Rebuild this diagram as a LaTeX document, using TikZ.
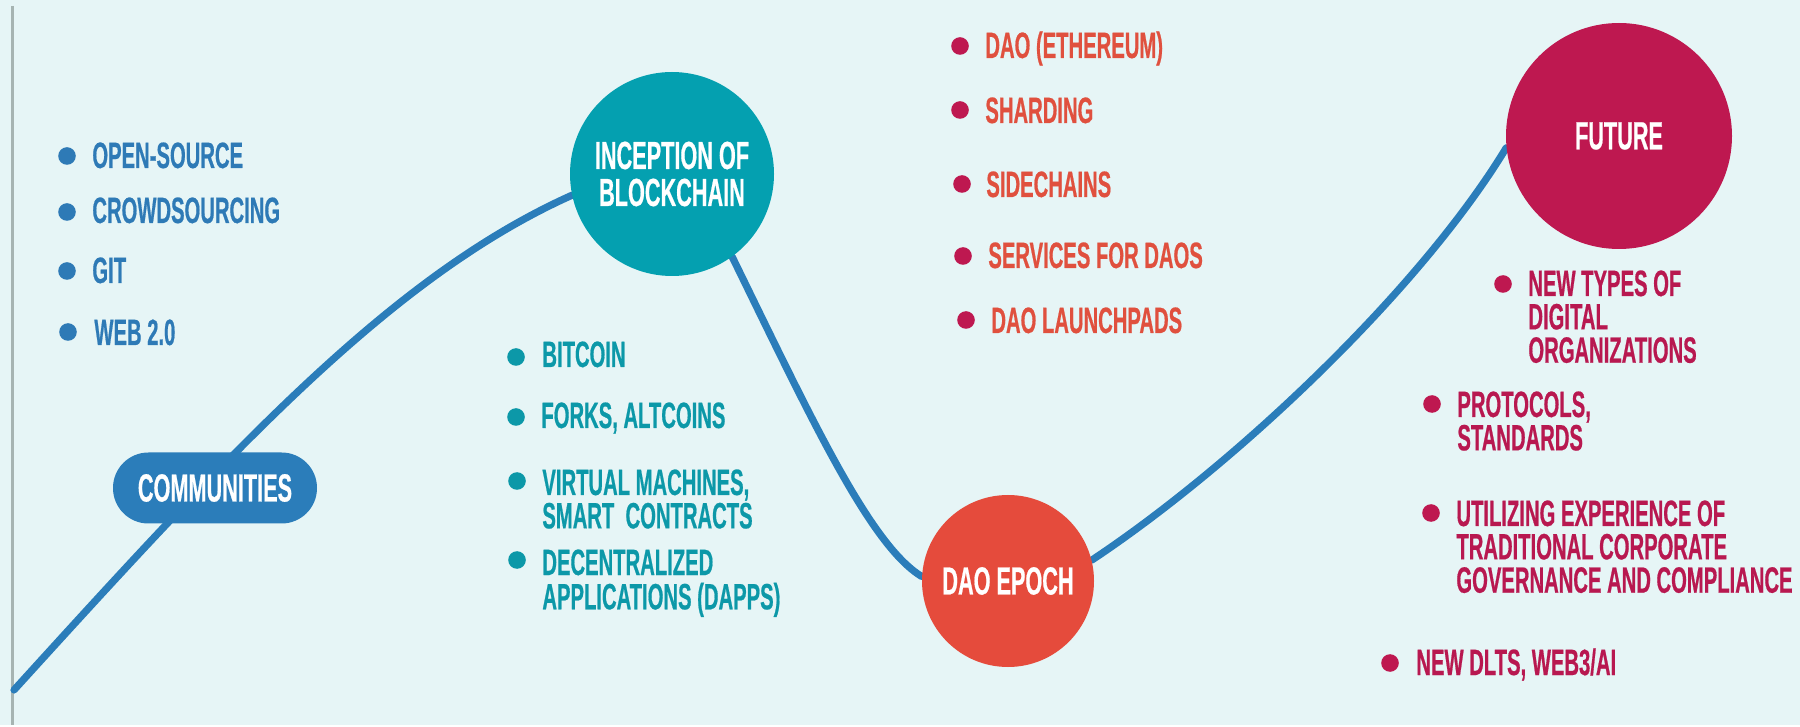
\documentclass[tikz,border=0pt]{standalone}
\usepackage{fontspec}
\setmainfont{Liberation Sans}
\newfontfamily\condfont[FakeStretch=0.553,FakeBold=0.5]{Liberation Sans}
\usetikzlibrary{backgrounds}
\definecolor{bgc}{RGB}{230,245,246}
\definecolor{edgegray}{RGB}{166,180,178}
\definecolor{curveblue}{RGB}{43,125,186}
\definecolor{blueitem}{RGB}{46,122,182}
\definecolor{tealc}{RGB}{4,160,176}
\definecolor{tealitem}{RGB}{12,152,168}
\definecolor{redc}{RGB}{229,75,60}
\definecolor{reditem}{RGB}{224,80,62}
\definecolor{crimson}{RGB}{190,24,80}
\definecolor{crimsonitem}{RGB}{184,24,80}
\newcommand\itemlines[1]{\begin{tabular}[t]{@{}l@{}}#1\end{tabular}}
\newcommand\nl{\\[-1.2pt]}
\pgfdeclarelayer{bgfill}
\pgfsetlayers{bgfill,background,main}
\tikzset{
  itemtxt/.style={anchor=base west, inner sep=0pt, text=#1,
    font=\condfont\bfseries\fontsize{18.3}{17}\selectfont},
  bul/.style={circle, fill=#1, minimum size=8.8pt, inner sep=0pt},
  bignode/.style={circle, fill=#1, inner sep=0pt, text=white, align=center,
    font=\condfont\bfseries\fontsize{19.6}{18.5}\selectfont},
  curve/.style={line width=3.6pt, draw=curveblue, line cap=round},
}
\begin{document}
\begin{tikzpicture}[x=0.5pt,y=-0.5pt]
\begin{pgfonlayer}{bgfill}
\fill[bgc] (0,0) rectangle (1800,725);
\draw[edgegray, line width=1.5pt] (12,6) -- (12,725);
\end{pgfonlayer}
\useasboundingbox (0,0) rectangle (1800,725);

% main stages
\node[rectangle, fill=curveblue, rounded corners=17.7pt, minimum width=102pt,
  minimum height=35.5pt, inner sep=0pt, text=white,
  font=\condfont\bfseries\fontsize{19.6}{18.5}\selectfont] (comm) at (215,488) {COMMUNITIES};
\node[bignode=tealc, minimum size=102pt] (incep) at (672,174) {INCEPTION OF\\BLOCKCHAIN};
\node[bignode=redc, minimum size=86pt] (dao) at (1008,581) {DAO EPOCH};
\node[bignode=crimson, minimum size=113pt] (future) at (1619,136) {FUTURE};

% curve
\coordinate (start) at (14,690);
\begin{pgfonlayer}{background}
\draw[curve] (start) .. controls (234,448) and (392,276) .. (incep.192);
\draw[curve] (incep.306) .. controls (812,420) and (870,545) .. (dao.177);
\draw[curve] (dao.14) .. controls (1235,465) and (1420,290) .. (future.186);
\end{pgfonlayer}

% communities items
\node[bul=blueitem] (b1) at (67,156) {};
\node[itemtxt=blueitem] (t1) at (92,168) {OPEN-SOURCE};
\node[bul=blueitem] (b2) at (67,212) {};
\node[itemtxt=blueitem] (t2) at (92,223) {CROWDSOURCING};
\node[bul=blueitem] (b3) at (67,271) {};
\node[itemtxt=blueitem] (t3) at (92,283) {GIT};
\node[bul=blueitem] (b4) at (68,332) {};
\node[itemtxt=blueitem] (t4) at (94,345) {WEB 2.0};

% blockchain items
\node[bul=tealitem] (c1) at (516,357) {};
\node[itemtxt=tealitem] (u1) at (542,367) {BITCOIN};
\node[bul=tealitem] (c2) at (516,417) {};
\node[itemtxt=tealitem] (u2) at (541,428) {FORKS, ALTCOINS};
\node[bul=tealitem] (c3) at (517,481) {};
\node[itemtxt=tealitem] (u3) at (542,495) {\itemlines{VIRTUAL MACHINES,\nl SMART\ \ CONTRACTS}};
\node[bul=tealitem] (c4) at (517,560) {};
\node[itemtxt=tealitem] (u4) at (542,575) {\itemlines{DECENTRALIZED\nl APPLICATIONS (DAPPS)}};

% DAO items
\node[bul=crimson] (d1) at (960,46) {};
\node[itemtxt=reditem] (e1) at (985,58) {DAO (ETHEREUM)};
\node[bul=crimson] (d2) at (960,110) {};
\node[itemtxt=reditem] (e2) at (985,123) {SHARDING};
\node[bul=crimson] (d3) at (962,184) {};
\node[itemtxt=reditem] (e3) at (986,197) {SIDECHAINS};
\node[bul=crimson] (d4) at (963,256) {};
\node[itemtxt=reditem] (e4) at (988,268) {SERVICES FOR DAOS};
\node[bul=crimson] (d5) at (966,320) {};
\node[itemtxt=reditem] (e5) at (991,333) {DAO LAUNCHPADS};

% future items
\node[bul=crimson] (f1) at (1503,284) {};
\node[itemtxt=crimsonitem] (g1) at (1528,296) {\itemlines{NEW TYPES OF\nl DIGITAL\nl ORGANIZATIONS}};
\node[bul=crimson] (f2) at (1432,404) {};
\node[itemtxt=crimsonitem] (g2) at (1457,417) {\itemlines{PROTOCOLS,\nl STANDARDS}};
\node[bul=crimson] (f3) at (1431,513) {};
\node[itemtxt=crimsonitem] (g3) at (1456,526) {\itemlines{UTILIZING EXPERIENCE OF\nl TRADITIONAL CORPORATE\nl GOVERNANCE AND COMPLIANCE}};
\node[bul=crimson] (f4) at (1390,663) {};
\node[itemtxt=crimsonitem] (g4) at (1416,675) {NEW DLTS, WEB3/AI};
\end{tikzpicture}
\end{document}
